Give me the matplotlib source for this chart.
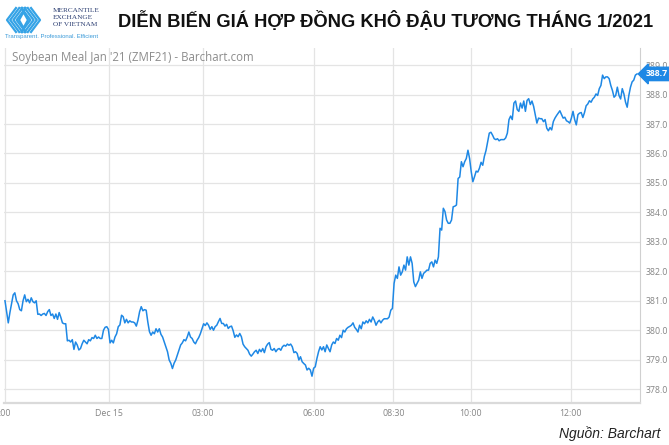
import numpy as np
import matplotlib
matplotlib.use("Agg")
import matplotlib.pyplot as plt
from matplotlib.lines import Line2D

# ---------------- data ----------------
seg_a = [381.0, 380.63, 380.25, 380.6, 380.9, 381.2, 381.27, 381.0, 380.9, 380.7,
         380.66, 381.0, 381.2, 380.97, 381.05, 380.93, 381.1, 380.97, 380.93, 381.0,
         380.54, 380.55, 380.5, 380.55, 380.57, 380.5, 380.63, 380.7, 380.5, 380.55,
         380.4, 380.55, 380.37, 380.6, 380.44, 380.25, 380.22, 380.22, 379.64, 379.66,
         379.6, 379.68, 379.35, 379.6, 379.5, 379.33, 379.38, 379.54, 379.66, 379.6,
         379.54, 379.68, 379.64, 379.75, 379.72, 379.83, 379.72, 379.77]
seg_b = [379.72, 379.72, 380.0, 380.1, 380.12, 380.03, 379.57, 379.66, 379.57, 379.77,
         379.88, 380.12, 380.18, 380.51, 380.46, 380.25, 380.37, 380.25, 380.32, 380.28,
         380.28, 380.25, 380.14, 380.34, 380.63, 380.8, 380.66, 380.7, 380.68, 380.28,
         379.95, 379.83, 379.94, 379.88, 380.05, 379.94, 380.05, 379.86, 379.77, 379.6,
         379.43, 379.27, 378.99, 378.88, 378.7, 378.88, 378.99, 379.16, 379.33, 379.5,
         379.57, 379.68, 379.64, 379.77, 379.94, 379.77, 379.72, 379.6, 379.54, 379.66,
         379.75, 379.88, 380.05, 380.22, 380.16, 380.25]
seg_c = [380.17, 380.03, 380.12, 380.0, 380.12, 380.17, 380.29, 380.4, 380.23, 380.23,
         380.14, 380.2, 380.06, 380.12, 380.14, 379.98, 379.76, 379.84, 379.78, 379.89,
         379.78, 379.53, 379.44, 379.38, 379.32, 379.19, 379.12, 379.19, 379.27, 379.32,
         379.21, 379.35, 379.27, 379.38, 379.24, 379.44, 379.53, 379.58, 379.35, 379.32,
         379.38, 379.27, 379.35, 379.38, 379.32, 379.44, 379.49, 379.46, 379.53, 379.49,
         379.53, 379.44, 379.24, 379.27, 379.21, 378.99, 379.1, 378.93, 378.87, 378.82,
         378.65, 378.71, 378.65, 378.44, 378.71, 378.76]
seg_d = [379.04, 379.27, 379.44, 379.33, 379.44, 379.27, 379.5, 379.38, 379.27, 379.5,
         379.6, 379.55, 379.72, 379.66, 379.83, 379.75, 380.0, 379.94, 380.05, 380.1,
         380.13, 380.17, 380.25, 380.1, 380.03, 379.94, 380.17, 380.05, 380.28, 380.22,
         380.32, 380.25, 380.37, 380.28, 380.45, 380.34, 380.17, 380.28, 380.34, 380.25,
         380.34, 380.39, 380.39, 380.39, 380.45, 380.68, 380.74]
seg_e = [381.59, 381.87, 381.76, 382.15, 381.87, 381.98, 382.21, 382.04, 382.49, 382.21,
         382.49, 382.27, 381.64, 381.48, 381.59, 381.7, 381.98, 381.76, 381.93, 381.98,
         382.04, 382.04, 382.27, 382.32, 382.15, 382.38, 382.27, 382.49, 383.46, 383.4,
         384.14, 384.03, 383.74, 383.63, 383.63, 383.74, 384.19, 384.21, 384.25, 385.15,
         385.2, 385.72, 385.55, 385.72, 385.83, 386.11, 385.83, 385.38, 385.04, 385.21,
         385.4, 385.37]
seg_f = [385.5, 385.7, 385.6, 385.9, 386.1, 386.4,
         386.69, 386.72, 386.62, 386.5, 386.47, 386.5, 386.43, 386.47, 386.47, 386.47,
         386.53, 386.69, 387.15, 387.27, 387.15, 387.71, 387.78, 387.49, 387.43, 387.71,
         387.54, 387.78, 387.43, 387.8, 387.86, 387.66, 387.78, 387.6, 387.32, 387.03,
         387.2, 387.18, 387.18, 387.08, 387.15, 386.86, 386.77, 386.88, 386.8, 387.08,
         387.2, 387.29, 387.37, 387.45, 387.32, 387.2, 387.23, 387.11, 387.08, 387.03,
         387.2, 387.43, 387.15, 386.97, 387.32, 387.37]
seg_g = [387.39, 387.22, 387.39, 387.62, 387.68, 387.79, 387.74, 387.85, 387.91, 388.02,
         387.97, 388.2, 388.31, 388.66, 388.54, 388.6, 388.6, 388.54, 388.31, 388.14,
         387.91, 387.97, 388.25, 387.97, 387.85, 388.2, 388.02, 387.74, 387.57, 387.97,
         388.25, 388.43, 388.49, 388.66, 388.7]
price = seg_a + seg_b + seg_c + seg_d + seg_e + seg_f + seg_g

tick_bars = [0, 63.6, 120.6, 188.2, 236.6, 283.6, 344.6]
tick_labels = [":00", "Dec 15", "03:00", "06:00", "08:30", "10:00", "12:00"]
y_ticks = list(range(378, 390))

title = "DIỄN BIẾN GIÁ HỢP ĐỒNG KHÔ ĐẬU TƯƠNG THÁNG 1/2021"
subtitle = "Soybean Meal Jan '21 (ZMF21) - Barchart.com"
source = "Nguồn: Barchart"

# ---------------- figure ----------------
W, H = 669, 445
fig = plt.figure(figsize=(W / 100, H / 100), dpi=100)
fig.patch.set_facecolor("white")

LINE = "#1e88e5"
ax = fig.add_axes([4 / W, 42 / H, 636 / W, 355 / H])
x = np.arange(len(price))
ax.plot(x, price, color=LINE, lw=1.1, solid_joinstyle="round")
ax.set_xlim(-0.6, len(price) - 1 + 1.8)
ax.set_ylim(377.53, 389.58)

ax.set_xticks(tick_bars)
ax.set_xticklabels(tick_labels)
ax.set_yticks(y_ticks)
ax.set_yticklabels([f"{v:.1f}" for v in y_ticks])
ax.yaxis.tick_right()
ax.tick_params(axis="both", length=0, labelsize=6.3, labelcolor="#858585", pad=4)
for lab in ax.get_xticklabels() + ax.get_yticklabels():
    lab.set_family("Open Sans")
ax.grid(True, color="#e4e4e4", lw=0.9)
ax.set_axisbelow(True)
for s in ["left", "top"]:
    ax.spines[s].set_visible(False)
ax.spines["right"].set_color("#d0d0d0")
ax.spines["bottom"].set_color("#dadada")
ax.spines["bottom"].set_linewidth(1.6)

# price tag
ax.annotate(f"{price[-1]:.1f}", xy=(1.0, price[-1]), xycoords=("axes fraction", "data"),
            xytext=(4, 0), textcoords="offset points", ha="left", va="center",
            fontsize=6.3, color="white", weight="bold", family="Open Sans",
            bbox=dict(boxstyle="larrow,pad=0.25", fc=LINE, ec=LINE), annotation_clip=False)

# subtitle inside plot
fig.text(12 / W, 1 - 58 / H, subtitle, fontsize=8.3, color="#8c8c8c",
         family="Open Sans", va="center", ha="left")

# title
fig.text(386 / W, 1 - 27 / H, title, fontsize=13.2, weight="bold", color="#111111",
         family="Liberation Sans", ha="center", va="baseline")

# source
fig.text(660 / W, 1 - 438 / H, source, fontsize=10, style="italic", color="#222222",
         family="Liberation Sans", ha="right", va="baseline")

# logo
lax = fig.add_axes([4 / W, (H - 34) / H, 40 / W, 28 / H])
lax.set_xlim(0, 40)
lax.set_ylim(0, 28)
lax.axis("off")
LOGO = "#35a3e6"
for k in range(4):
    o = k * 3.2
    lax.add_line(Line2D([12 + o, 3 + o, 12 + o], [26, 14, 2], color=LOGO, lw=1.6))
    lax.add_line(Line2D([27 - o, 36 - o, 27 - o], [26, 14, 2], color=LOGO, lw=1.6))
lax.add_line(Line2D([19.5, 24, 19.5, 15, 19.5], [22, 14, 6, 14, 22], color=LOGO, lw=1.6))

for i, t in enumerate(["MERCANTILE", "EXCHANGE", "OF VIETNAM"]):
    fig.text(53 / W, 1 - (12 + i * 7) / H, t, fontsize=5.2, color="#2c3e72",
             family="Liberation Serif", ha="left", va="baseline")
fig.text(5 / W, 1 - 38 / H, "Transparent. Professional. Efficient", fontsize=4.3,
         color="#3a9ad9", family="Liberation Sans", ha="left", va="baseline")

fig.savefig("out.png", dpi=100)
